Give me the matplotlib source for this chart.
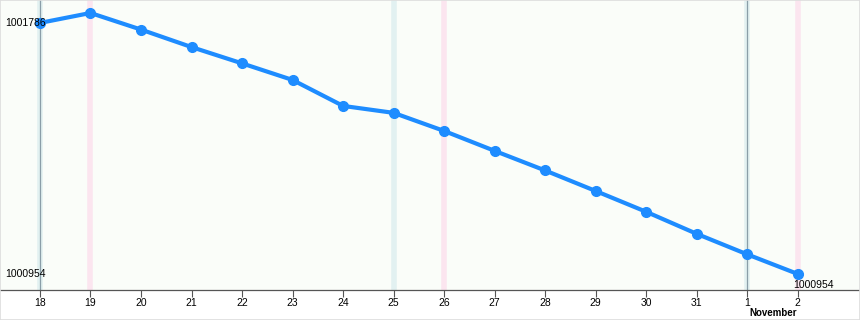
import datetime as dt
import matplotlib
matplotlib.use('Agg')
import matplotlib.pyplot as plt
import matplotlib.patches as patches

plt.rcParams['font.family'] = ['Liberation Sans', 'DejaVu Sans']

# data
day_labels = ['18', '19', '20', '21', '22', '23', '24', '25', '26', '27',
              '28', '29', '30', '31', '1', '2']
dates = [dt.date(2014, 10, d) for d in range(18, 32)] + [dt.date(2014, 11, 1), dt.date(2014, 11, 2)]
values = [1001786, 1001819, 1001764, 1001706, 1001652, 1001597, 1001511, 1001488,
          1001428, 1001362, 1001297, 1001229, 1001160, 1001087, 1001019, 1000954]
month_label = 'November'

x = list(range(len(values)))

fig = plt.figure(figsize=(8.6, 3.2), dpi=100)
fig.patch.set_facecolor('white')
ax = fig.add_axes([0, 30 / 320, 1, 290 / 320])
ax.set_facecolor('#fafdf9')

# weekend bands: saturday blue, sunday pink
for xi, d in zip(x, dates):
    if d.weekday() == 5:
        ax.axvline(xi, color='#e2f1f1', lw=4, zorder=1)
    elif d.weekday() == 6:
        ax.axvline(xi, color='#fbe5ef', lw=4, zorder=1)
    if xi == 0 or d.day == 1:
        ax.axvline(xi, color='#8a9ea8', lw=0.9, zorder=2)

ax.plot(x, values, color='#1e8cff', lw=3, marker='o', ms=7, zorder=3)

ymin, ymax = min(values), max(values)
ax.set_xlim(-0.79, 16.23)
ax.set_ylim(1000901, 1001862)

for s in ['top', 'right', 'left']:
    ax.spines[s].set_visible(False)
ax.spines['bottom'].set_color('#555555')
ax.spines['bottom'].set_linewidth(0.9)

ax.set_yticks([])
ax.set_xticks(x)
ax.set_xticklabels(day_labels, fontsize=7.5)
ax.tick_params(axis='x', length=5, width=0.8, color='#555555', pad=0.5)

# y labels: first value and minimum on the left, last value at the end
ax.text(0.006, values[0], str(values[0]), transform=ax.get_yaxis_transform(),
        ha='left', va='center', fontsize=7.5)
ax.text(0.006, ymin, str(ymin), transform=ax.get_yaxis_transform(),
        ha='left', va='center', fontsize=7.5)
ax.annotate(str(values[-1]), (x[-1], values[-1]), xytext=(-3, -4),
            textcoords='offset points', ha='left', va='top', fontsize=7.5)

fig.text(749 / 860, 1 - 313 / 320, month_label, ha='left', va='center',
         fontsize=7, fontweight='bold')

fig.add_artist(patches.Rectangle((0, 0), 1, 1, transform=fig.transFigure,
                                 fill=False, edgecolor='#dddddd', lw=1.2))

plt.savefig('out.png', dpi=100, facecolor='white')
plt.close()
